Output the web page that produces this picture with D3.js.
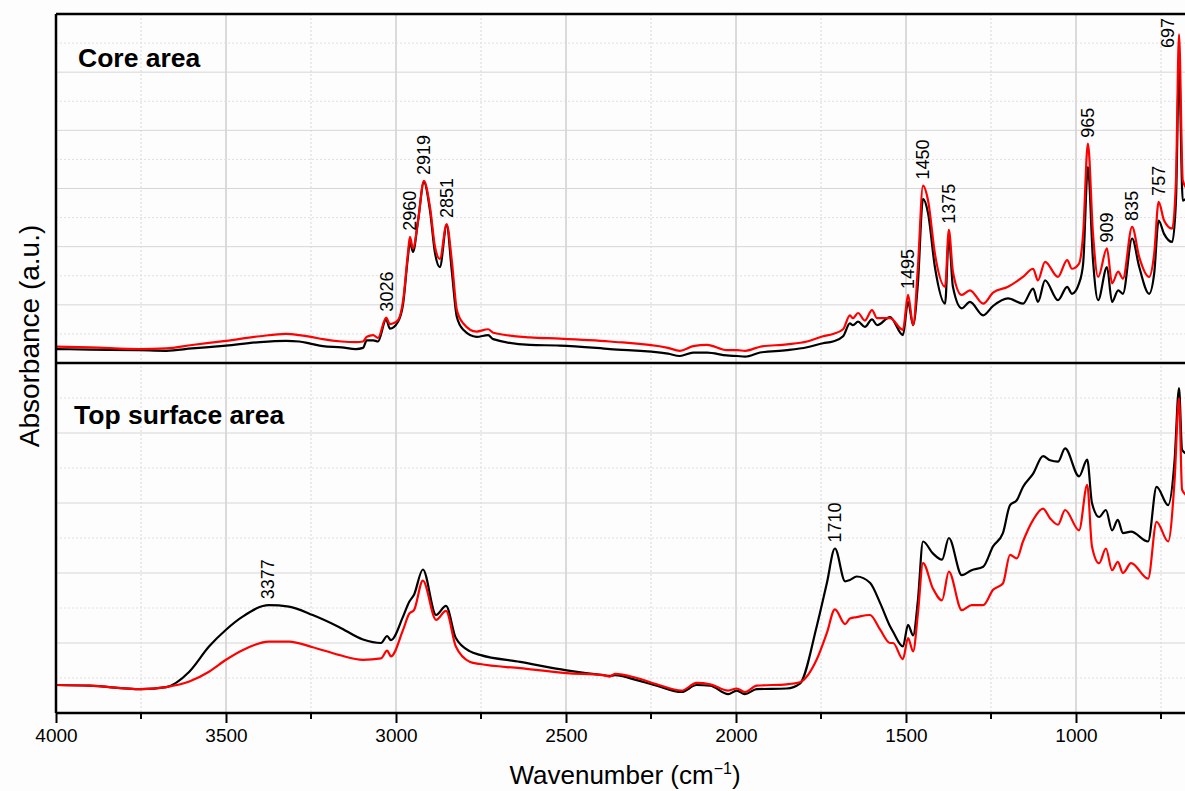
<!DOCTYPE html>
<html>
<head>
<meta charset="utf-8">
<script src="https://cdn.jsdelivr.net/npm/d3@7"></script>
<style>
body{margin:0;background:#fdfdfd;}
text{font-family:"Liberation Sans",Arial,sans-serif;fill:#000;}
</style>
</head>
<body>
<div id="chart"></div>
<script>
// core area spectra (upper panel)
const coreWn = [4000,3900,3755,3676,3600,3500,3400,3324,3285,3250,3215,3160,3118,3097,3086,3067,3053,3029,3018,2994,2979,2965,2959,2950,2935,2918,2900,2885,2871,2851,2836,2821,2802,2763,2729,2714,2606,2518,2371,2200,2165,2126,2085,2027,1997,1973,1929,1850,1791,1744,1715,1685,1665,1656,1641,1621,1600,1585,1547,1509,1494,1479,1465,1450,1435,1415,1385,1374,1362,1336,1312,1273,1244,1200,1156,1126,1112,1091,1053,1026,1012,991,979,965,950,935,909,894,876,862,835,814,785,770,757,741,717,706,697,686,670];
const coreBlack = [0.24,0.23,0.22,0.21,0.25,0.30,0.36,0.38,0.37,0.33,0.29,0.27,0.24,0.26,0.39,0.39,0.37,0.75,0.59,0.71,1.02,1.82,2.08,1.91,2.45,3.11,2.62,1.88,1.65,2.37,1.59,0.79,0.57,0.45,0.48,0.41,0.31,0.30,0.24,0.16,0.12,0.18,0.18,0.13,0.12,0.11,0.18,0.22,0.27,0.34,0.37,0.46,0.68,0.65,0.71,0.62,0.75,0.65,0.79,0.48,1.05,0.65,1.37,2.82,2.57,1.65,1.02,2.17,1.31,0.94,1.05,0.82,0.98,1.11,1.02,1.28,1.05,1.42,1.08,1.31,1.19,1.37,1.71,3.37,1.77,1.08,1.65,1.05,1.25,1.19,2.14,1.65,1.19,1.54,2.45,2.22,2.08,2.79,5.06,2.79,2.88];
const coreRed = [0.28,0.27,0.24,0.25,0.31,0.38,0.46,0.50,0.48,0.45,0.41,0.37,0.36,0.37,0.45,0.48,0.43,0.78,0.67,0.74,1.08,1.88,2.17,1.97,2.45,3.13,2.68,1.99,1.79,2.39,1.77,0.91,0.68,0.54,0.58,0.52,0.44,0.42,0.37,0.26,0.21,0.29,0.31,0.22,0.22,0.21,0.28,0.32,0.37,0.46,0.50,0.58,0.82,0.77,0.86,0.73,0.91,0.77,0.77,0.57,1.17,0.65,1.65,3.05,2.79,1.88,1.31,2.29,1.57,1.17,1.25,1.02,1.21,1.31,1.48,1.62,1.42,1.74,1.48,1.77,1.62,1.71,2.22,3.77,2.22,1.48,1.97,1.37,1.57,1.45,2.34,1.82,1.48,1.88,2.77,2.45,2.31,3.14,5.65,3.14,2.97];

// top surface area spectra (lower panel)
const surfWn = [4000,3902,3750,3676,3608,3550,3500,3450,3374,3315,3245,3168,3097,3044,3026,3015,2979,2961,2947,2921,2882,2853,2824,2782,2753,2635,2498,2390,2371,2356,2292,2233,2160,2116,2076,2023,1998,1974,1939,1851,1812,1763,1733,1709,1679,1665,1645,1606,1576,1547,1538,1509,1494,1479,1465,1450,1421,1394,1374,1336,1307,1273,1244,1215,1194,1174,1156,1126,1097,1076,1053,1032,991,967,953,932,912,894,877,862,838,788,763,729,710,697,688,670];
const surfBlack = [0.40,0.39,0.34,0.37,0.59,0.95,1.19,1.38,1.54,1.52,1.40,1.23,1.05,1.00,1.10,1.04,1.38,1.59,1.69,2.05,1.40,1.53,1.07,0.88,0.83,0.73,0.61,0.54,0.53,0.54,0.47,0.39,0.30,0.40,0.39,0.27,0.32,0.27,0.34,0.35,0.42,1.23,1.85,2.35,1.88,1.90,1.95,1.86,1.57,1.24,1.16,0.95,1.26,1.11,1.61,2.45,2.28,2.19,2.50,1.97,2.04,2.09,2.38,2.57,2.97,3.04,3.23,3.42,3.67,3.61,3.59,3.78,3.38,3.62,3.00,2.80,2.90,2.61,2.76,2.57,2.59,2.45,3.23,2.97,3.61,4.64,3.76,3.69];
const surfRed = [0.40,0.39,0.34,0.37,0.45,0.59,0.76,0.90,1.02,1.02,0.94,0.83,0.76,0.78,0.89,0.81,1.19,1.42,1.47,1.89,1.33,1.46,0.95,0.73,0.70,0.64,0.57,0.54,0.52,0.56,0.50,0.41,0.32,0.43,0.41,0.32,0.35,0.30,0.39,0.41,0.44,0.76,1.14,1.48,1.27,1.35,1.37,1.40,1.19,1.00,1.00,0.77,1.07,0.88,1.42,2.14,1.78,1.61,2.02,1.47,1.54,1.54,1.76,1.85,2.26,2.21,2.45,2.76,2.92,2.78,2.69,2.90,2.61,3.26,2.38,2.14,2.35,2.04,2.16,2.00,2.14,1.92,2.73,2.45,3.33,4.50,3.19,3.09];

const coreLabels = ["3026","2960","2919","2851","1495","1450","1375","965","909","835","757","697"];
const surfLabels = ["3377","1710"];
const majorTicks = [4000,3500,3000,2500,2000,1500,1000];
const minorTicks = [3750,3250,2750,2250,1750,1250,750];

const width = 1185, height = 791;
const mLeft = 56, mRight = 1185, mTop = 14, mMid = 363, mBottom = 713;

const svg = d3.select("#chart").append("svg")
  .attr("width", width).attr("height", height);

const x = d3.scaleLinear().domain([4000, 650]).range([mLeft, mLeft + 3350 * 0.34]);
const yCore = d3.scaleLinear().domain([0, 6]).range([mMid, mTop]);
const ySurf = d3.scaleLinear().domain([0, 5]).range([mBottom, mMid]);

// grid
const grid = svg.append("g");
const vLines = d3.range(4000, 600, -250);
grid.selectAll(".vg").data(vLines).enter().append("line")
  .attr("x1", d => x(d)).attr("x2", d => x(d))
  .attr("y1", mTop).attr("y2", mBottom)
  .attr("stroke", d => d % 500 === 0 ? "#b8b8b8" : "#d8d8d8")
  .attr("stroke-width", 1)
  .attr("stroke-dasharray", d => d % 500 === 0 ? null : "2,2");

function hGrid(scale, max) {
  const vals = d3.range(0.5, max, 0.5);
  grid.selectAll(null).data(vals).enter().append("line")
    .attr("x1", mLeft).attr("x2", mRight)
    .attr("y1", d => scale(d)).attr("y2", d => scale(d))
    .attr("stroke", d => d % 1 === 0 ? "#d6d6d6" : "#e0e0e0")
    .attr("stroke-dasharray", d => d % 1 === 0 ? null : "2,2");
}
hGrid(yCore, 6);
hGrid(ySurf, 5);

// clip per panel
const defs = svg.append("defs");
defs.append("clipPath").attr("id", "clipCore").append("rect")
  .attr("x", mLeft).attr("y", mTop).attr("width", mRight - mLeft).attr("height", mMid - mTop);
defs.append("clipPath").attr("id", "clipSurf").append("rect")
  .attr("x", mLeft).attr("y", mMid).attr("width", mRight - mLeft).attr("height", mBottom - mMid);

function drawSeries(wn, vals, scale, color, clip) {
  const pts = wn.map((w, i) => [w, vals[i]]);
  const line = d3.line().x(d => x(d[0])).y(d => scale(d[1])).curve(d3.curveMonotoneX);
  svg.append("path").datum(pts)
    .attr("clip-path", "url(#" + clip + ")")
    .attr("fill", "none").attr("stroke", color).attr("stroke-width", 2.2)
    .attr("stroke-linejoin", "round")
    .attr("d", line);
}
drawSeries(coreWn, coreBlack, yCore, "#000", "clipCore");
drawSeries(coreWn, coreRed, yCore, "#ff0000", "clipCore");
drawSeries(surfWn, surfBlack, ySurf, "#000", "clipSurf");
drawSeries(surfWn, surfRed, ySurf, "#ff0000", "clipSurf");

// peak labels
function peakLabels(labels, wn, seriesList, scale, yTop) {
  labels.forEach(lab => {
    const w = +lab;
    let best = -Infinity;
    wn.forEach((v, i) => {
      if (Math.abs(v - w) <= 10) seriesList.forEach(s => { best = Math.max(best, s[i]); });
    });
    let px = x(w), yb = scale(best) - 6;
    if (yb - 32 < yTop) { px -= 11; yb = yTop + 34; }
    svg.append("text")
      .attr("transform", "translate(" + px + "," + yb + ") rotate(-90)")
      .attr("dy", "0.35em")
      .style("font-size", "18px")
      .text(lab);
  });
}
peakLabels(coreLabels, coreWn, [coreBlack, coreRed], yCore, mTop);
peakLabels(surfLabels, surfWn, [surfBlack, surfRed], ySurf, mMid);

// frame
const frame = svg.append("g").attr("stroke", "#000").attr("stroke-width", 2.5);
frame.append("line").attr("x1", mLeft).attr("x2", mRight).attr("y1", mTop).attr("y2", mTop);
frame.append("line").attr("x1", mLeft).attr("x2", mRight).attr("y1", mMid).attr("y2", mMid);
frame.append("line").attr("x1", mLeft).attr("x2", mLeft).attr("y1", mTop).attr("y2", mBottom);

// x axis
const xAxis = svg.append("g").attr("transform", "translate(0," + mBottom + ")")
  .call(d3.axisBottom(x).tickValues(majorTicks).tickFormat(d3.format("d"))
    .tickSize(10).tickSizeOuter(0).tickPadding(6));
xAxis.select(".domain").remove();
xAxis.selectAll(".tick line").attr("stroke-width", 2);
xAxis.selectAll(".tick text").style("font-size", "19px");
svg.append("g").attr("transform", "translate(0," + mBottom + ")")
  .selectAll("line").data(minorTicks).enter().append("line")
  .attr("x1", d => x(d)).attr("x2", d => x(d)).attr("y1", 0).attr("y2", 6)
  .attr("stroke", "#000").attr("stroke-width", 2);
svg.append("line").attr("x1", mLeft).attr("x2", mRight).attr("y1", mBottom).attr("y2", mBottom)
  .attr("stroke", "#000").attr("stroke-width", 2.5);

// panel titles
svg.append("text").attr("x", 78).attr("y", 67)
  .style("font-size", "26.5px").style("font-weight", "bold").text("Core area");
svg.append("text").attr("x", 74).attr("y", 424)
  .style("font-size", "26.5px").style("font-weight", "bold").text("Top surface area");

// axis titles
const xt = svg.append("text").attr("x", 625).attr("y", 784)
  .attr("text-anchor", "middle").style("font-size", "26px");
xt.append("tspan").text("Wavenumber (cm");
xt.append("tspan").attr("dy", "-10").style("font-size", "16px").text("\u22121");
xt.append("tspan").attr("dy", "10").text(")");

svg.append("text")
  .attr("transform", "translate(39," + 336 + ") rotate(-90)")
  .attr("text-anchor", "middle").style("font-size", "28px")
  .text("Absorbance (a.u.)");
</script>
</body>
</html>
